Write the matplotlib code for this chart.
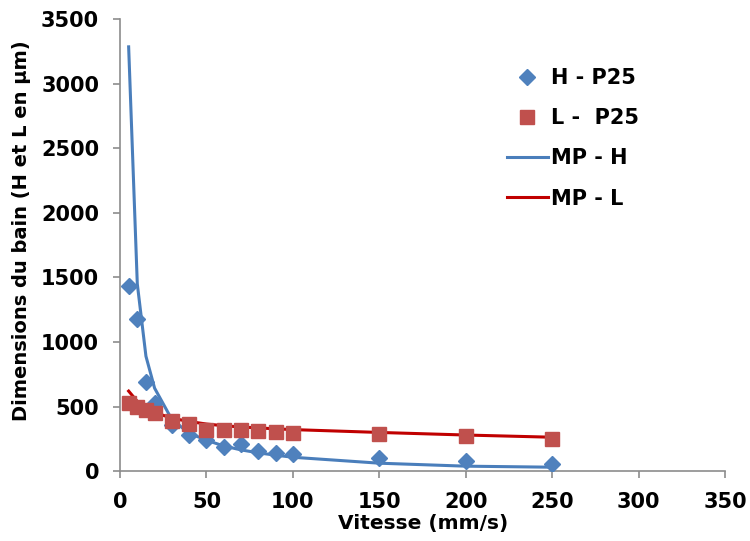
import numpy as np
import matplotlib.pyplot as plt

# Vitesse (mm/s)
v = [5, 10, 15, 20, 30, 40, 50, 60, 70, 80, 90, 100, 150, 200, 250]

# measured points
h_p25 = [1433, 1177, 689, 527, 356, 279, 240, 186, 209, 155, 139, 132, 101, 77, 54]
l_p25 = [527, 496, 472, 449, 387, 364, 318, 320, 318, 310, 302, 294, 287, 271, 248]

# model curves
mp_h = [3284, 1450, 890, 643, 400, 294, 240, 195, 165, 142, 124, 108, 62, 39, 31]
mp_l = [620, 540, 490, 455, 410, 385, 365, 352, 342, 335, 328, 322, 300, 280, 263]

plt.rcParams['font.family'] = 'DejaVu Sans'
plt.rcParams['font.weight'] = 'bold'

fig = plt.figure(figsize=(7.5, 5.41), dpi=100)
ax = fig.add_axes([0.16, 0.129, 0.807, 0.836])

ax.plot(v, h_p25, 'D', color='#4F81BD', markersize=8, label='H - P25', zorder=3)
ax.plot(v, l_p25, 's', color='#C0504D', markersize=10, label='L -  P25', zorder=3)
ax.plot(v, mp_h, '-', color='#4A7EBB', lw=2.2, label='MP - H', zorder=2)
ax.plot(v, mp_l, '-', color='#C00000', lw=2.2, label='MP - L', zorder=2)

ax.set_xlim(0, 350)
ax.set_ylim(0, 3500)
ax.set_xticks(np.arange(0, 351, 50))
ax.set_yticks(np.arange(0, 3501, 500))

for s in ['top', 'right']:
    ax.spines[s].set_visible(False)
for s in ['left', 'bottom']:
    ax.spines[s].set_color('#8C8C8C')
    ax.spines[s].set_linewidth(1.2)

ax.tick_params(axis='both', direction='out', length=5, color='#8C8C8C',
               labelsize=15, width=1.2)
ax.tick_params(axis='x', pad=10)
ax.tick_params(axis='y', pad=10)
for lab in ax.get_xticklabels() + ax.get_yticklabels():
    lab.set_fontweight('bold')

ax.set_xlabel('Vitesse (mm/s)', fontsize=14.5, fontweight='bold')
ax.xaxis.set_label_coords(0.5, -0.115)
ax.xaxis.label.set_va('center')
ax.set_ylabel('Dimensions du bain (H et L en µm)', fontsize=14,
              fontweight='bold')
ax.yaxis.set_label_coords(-0.162, 0.531)
ax.yaxis.label.set_va('center')

leg = ax.legend(loc='upper left', bbox_to_anchor=(0.625, 0.91), frameon=False,
                fontsize=15, labelspacing=0.97, handlelength=2.0,
                handletextpad=0.15, borderaxespad=0)
for t in leg.get_texts():
    t.set_fontweight('bold')

fig.savefig('out.png', dpi=100)
